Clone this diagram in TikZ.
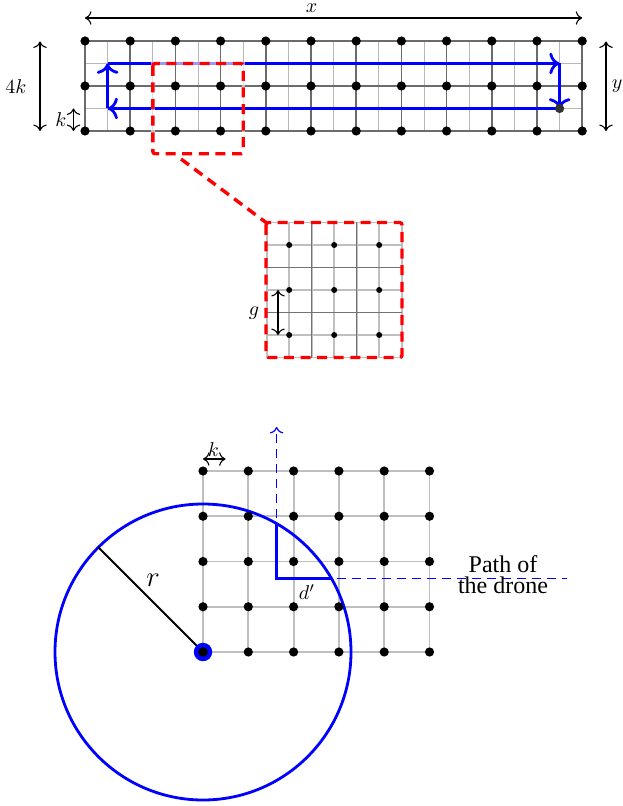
\documentclass[tikz,border=0pt]{standalone}
\usepackage{fontspec}
\newfontfamily\timesfont{Liberation Serif}
\usetikzlibrary{arrows.meta}
\begin{document}
\begin{tikzpicture}[x=0.5pt,y=-0.5pt,
  majorline/.style={draw=black!58,line width=0.8pt},
  minorline/.style={draw=black!28,line width=0.5pt},
  zmajor/.style={draw=black!25,line width=0.8pt},
  zminor/.style={draw=black!55,line width=0.5pt},
  bgrid/.style={draw=black!25,line width=0.9pt},
  bluepath/.style={draw=blue,line width=1.4pt,-{To[scale=1.1]}},
  reddash/.style={draw=red,line width=1.7pt,dash pattern=on 5pt off 3.3pt,rounded corners=1.2pt},
  dimarrow/.style={draw=black,line width=0.55pt,{To[scale=1.15]}-{To[scale=1.15]}},
  dronedash/.style={draw=blue,line width=0.6pt,dash pattern=on 4.5pt off 3pt},
  bluethick/.style={draw=blue,line width=1.5pt},
  bluecirc/.style={draw=blue,line width=1.4pt},
  radline/.style={draw=black,line width=1pt},
  lbl/.style={inner sep=0pt}]
\useasboundingbox (0,0) rectangle (622,806);

% ---------- top grid ----------
\foreach \i in {0,...,10} \draw[minorline] (107.6+45.2*\i,41) -- (107.6+45.2*\i,131);
\foreach \y in {63.5,108.5} \draw[minorline] (85,\y) -- (582.2,\y);
\foreach \i in {0,...,11} \draw[majorline] (85+45.2*\i,41) -- (85+45.2*\i,131);
\foreach \y in {41,86,131} \draw[majorline] (85,\y) -- (582.2,\y);
\foreach \i in {0,...,11} \foreach \y in {41,86,131} \fill (85+45.2*\i,\y) circle (2.3pt);

% blue path
\coordinate (bA) at (107.6,63.5);
\coordinate (bB) at (559.6,63.5);
\coordinate (bC) at (559.6,108.5);
\coordinate (bD) at (107.6,108.5);
\draw[bluepath] (bC) -- (bD);
\draw[bluepath] (bD) -- (bA);
\draw[bluepath] (bA) -- (bB);
\draw[bluepath] (bB) -- (bC);
\fill[black!80] (bC) circle (2.3pt);

% red zoom rectangle
\coordinate (zA) at (152.8,63.5);
\coordinate (zB) at (243.2,153.8);
\draw[white,opacity=0.6,line width=1.7pt] (zA) rectangle (zB);
\draw[reddash] (zA) rectangle (zB);

% dimension arrows
\coordinate (xa) at (85,18);
\coordinate (xb) at (582.2,18);
\draw[dimarrow] (xa) -- (xb);
\node[lbl] (xl) at (311.5,8.5) {$x$};
\coordinate (fa) at (40,41.5);
\coordinate (fb) at (40,131);
\draw[dimarrow] (fa) -- (fb);
\node[lbl] (fl) at (16,87) {$4k$};
\coordinate (ka) at (73.5,108.5);
\coordinate (kb) at (73.5,131);
\draw[dimarrow] (ka) -- (kb);
\node[lbl] (kl) at (61,120) {$k$};
\coordinate (ya) at (606,41.5);
\coordinate (yb) at (606,131);
\draw[dimarrow] (ya) -- (yb);
\node[lbl] (yl) at (617,86) {$y$};

% ---------- zoomed box ----------
\foreach \k in {0,2,4,6} \draw[zmajor] (266.7+22.5*\k,222.5) -- (266.7+22.5*\k,357.5);
\foreach \k in {0,2,4,6} \draw[zmajor] (266.7,222.5+22.5*\k) -- (401.7,222.5+22.5*\k);
\foreach \k in {1,3,5} \draw[zmajor] (266.7+22.5*\k,222.5) -- (266.7+22.5*\k,357.5);
\foreach \k in {1,3,5} \draw[zmajor] (266.7,222.5+22.5*\k) -- (401.7,222.5+22.5*\k);
\foreach \k in {2,4} \draw[zminor] (266.7+22.5*\k,222.5) -- (266.7+22.5*\k,357.5);
\foreach \k in {2,4} \draw[zminor] (266.7,222.5+22.5*\k) -- (401.7,222.5+22.5*\k);
\foreach \k in {1,3,5} \foreach \m in {1,3,5} \fill (266.7+22.5*\k,222.5+22.5*\m) circle (1.5pt);
\coordinate (zTL) at (266,222.5);
\coordinate (zBR) at (402,357.5);
\draw[reddash] (zTL) rectangle (zBR);
\coordinate (lnk) at (181,159);
\draw[reddash] (lnk) -- (zTL);
\coordinate (ga) at (278,290);
\coordinate (gb) at (278,335);
\draw[dimarrow] (ga) -- (gb);
\node[lbl] (gl) at (254,313) {$g$};

% ---------- bottom ----------
\foreach \i in {0,...,5} \draw[bgrid] (203+45.3*\i,471) -- (203+45.3*\i,652);
\foreach \j in {0,...,4} \draw[bgrid] (203,471+45.25*\j) -- (429.5,471+45.25*\j);

\coordinate (cc) at (203,652);
\draw[bluecirc] (cc) circle (74pt);
\draw[radline] (cc) -- ++(135:74pt) coordinate (rp);
\node[lbl,font=\Large] (rl) at (153,580) {$r$};

\foreach \i in {0,...,5} \foreach \j in {0,...,4} \fill (203+45.3*\i,471+45.25*\j) circle (2.3pt);
\fill[blue] (cc) circle (4.6pt);
\fill[black] (cc) circle (2.4pt);

% bottom k
\coordinate (bka) at (203,459);
\coordinate (bkb) at (225.6,459);
\draw[dimarrow] (bka) -- (bkb);
\node[lbl] (bkl) at (213.5,450) {$k$};

% drone path
\coordinate (pc) at (276.6,578.4);
\coordinate (ptop) at (276.6,427);
\coordinate (pend) at (567,578.4);
\coordinate (ia) at (276.6,523.6);
\coordinate (ib) at (331.4,578.4);
\draw[dronedash,-{To[scale=1.1]}] (pc) -- (ptop);
\draw[dronedash] (pc) -- (pend);
\draw[bluethick] (ia) -- (pc) -- (ib);
\node[lbl] (dl) at (307,592) {$d'$};
\node[inner sep=0pt,align=center,font=\timesfont\fontsize{12}{10.5}\selectfont] (pathl) at (503,575) {Path of\\the drone};
\end{tikzpicture}
\end{document}
